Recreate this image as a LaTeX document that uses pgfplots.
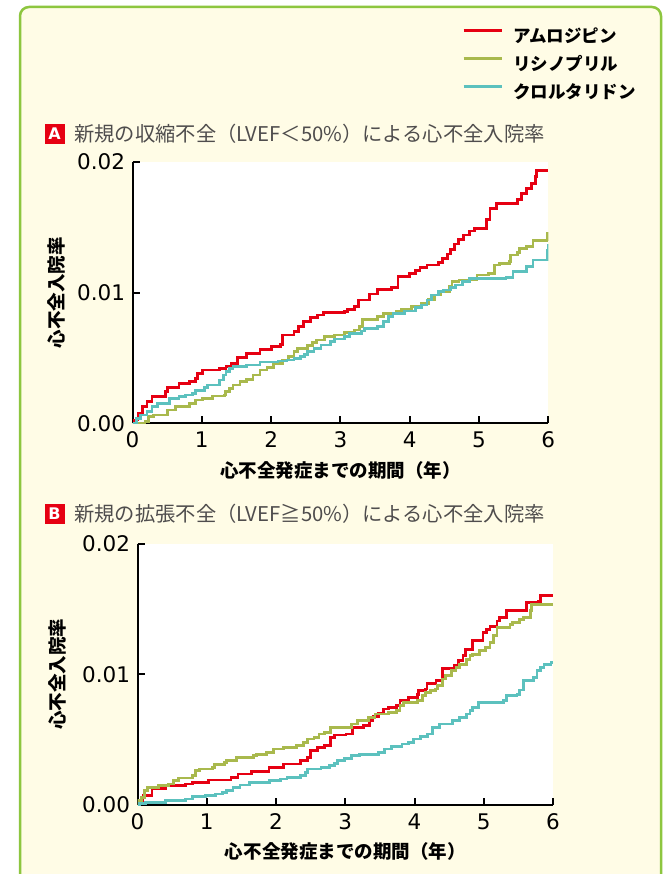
\documentclass[border=0pt]{standalone}
\usepackage{pgfplots}
\pgfplotsset{compat=1.18}
\usepackage{fontspec}
\setmainfont{DejaVu Sans}
\newfontfamily\jp{Noto Sans CJK JP}
\newfontfamily\dejavu{DejaVu Sans}
\definecolor{cred}{HTML}{E60012}
\definecolor{cgreen}{HTML}{A9B94D}
\definecolor{ccyan}{HTML}{5CC1BE}
\definecolor{cborder}{HTML}{8DC63F}
\definecolor{cream}{HTML}{FFFCE6}
\definecolor{tgray}{HTML}{4F4D4D}

\pgfplotsset{
 myaxis/.style={
  scale only axis, width=415.8pt, height=261.6pt,
  xmin=0, xmax=6, ymin=0, ymax=0.02,
  axis x line=bottom, axis y line=left,
  axis line style={-, line width=2pt, black},
  tick align=inside, major tick length=7pt,
  every tick/.style={line width=2pt, black},
  xtick={0,1,2,3,4,5,6}, ytick={0,0.01,0.02},
  yticklabels={0.00,0.01,0.02}, scaled y ticks=false,
  /pgf/number format/assume math mode=true,
  ticklabel style={font=\dejavu\fontsize{21.5}{21.5}\selectfont},
  xticklabel style={yshift=-5pt},
  yticklabel style={xshift=-4pt},
  axis background/.style={fill=white},
  xlabel={心不全発症までの期間（年）},
  ylabel={心不全入院率},
  label style={font=\jp\bfseries\fontsize{18.5}{18.5}\selectfont},
  xlabel style={at={(axis description cs:0.5,-0.1785)}, anchor=center},
 }
}

\begin{document}
\begin{tikzpicture}[x=1pt,y=1pt]
\path[use as bounding box, fill=white] (0,0) rectangle (667,-874);
\draw[cborder, line width=2.5pt, fill=cream, rounded corners=9pt] (20,-7) rectangle (661,-910);

% Panel A title
\node[fill=cred, text=white, font=\dejavu\bfseries\fontsize{16}{16}\selectfont, minimum width=20pt, minimum height=20pt, inner sep=0pt] at (54.5,-134) {A};
\node[anchor=west, text=tgray, font=\jp\fontsize{20.3}{21}\selectfont, inner sep=0pt] at (74,-134) {新規の収縮不全（LVEF＜50\%）による心不全入院率};

% Panel B title
\node[fill=cred, text=white, font=\dejavu\bfseries\fontsize{16}{16}\selectfont, minimum width=20pt, minimum height=20pt, inner sep=0pt] at (54.5,-514) {B};
\node[anchor=west, text=tgray, font=\jp\fontsize{20.3}{21}\selectfont, inner sep=0pt] at (74,-514) {新規の拡張不全（LVEF≧50\%）による心不全入院率};

\begin{axis}[myaxis, at={(132.5pt,-423.3pt)}, anchor=south west,
  ylabel style={at={(axis description cs:-0.184,0.5)}, anchor=center, rotate=0},
  legend style={draw=none, fill=none, inner sep=0pt, outer sep=0pt,
    at={(axis description cs:0.7925,1.5086)}, anchor=north west,
    font=\jp\bfseries\fontsize{17.5}{18}\selectfont,
    nodes={inner sep=0pt, text height=14pt, text depth=3.5pt},
    row sep=10.5pt, /tikz/every odd column/.append style={column sep=10pt}},
  legend cell align=left,
  legend image code/.code={\draw[#1, line width=3pt] (0pt,6.6pt) -- (38pt,6.6pt);},
]
\addplot[const plot, cred, line width=2.8pt] coordinates {
(0,0) (0.03,0.25e-3) (0.08,0.76e-3) (0.14,1.27e-3) (0.21,1.66e-3) (0.28,2.04e-3)
(0.48,2.42e-3) (0.50,2.73e-3) (0.67,3.06e-3) (0.82,3.18e-3) (0.91,3.44e-3) (0.94,3.82e-3)
(1.01,4.08e-3) (1.26,4.20e-3) (1.35,4.33e-3) (1.43,4.59e-3) (1.52,5.04e-3) (1.64,5.35e-3)
(1.84,5.66e-3) (2.01,5.86e-3) (2.13,6.04e-3) (2.17,6.75e-3) (2.33,7.01e-3) (2.40,7.39e-3)
(2.47,7.77e-3) (2.57,8.08e-3) (2.67,8.28e-3) (2.76,8.48e-3) (3.06,8.56e-3) (3.10,8.71e-3)
(3.20,8.92e-3) (3.26,9.43e-3) (3.42,9.89e-3) (3.54,10.24e-3) (3.74,10.39e-3) (3.83,11.21e-3)
(4.00,11.46e-3) (4.08,11.67e-3) (4.15,11.92e-3) (4.25,12.10e-3) (4.42,12.28e-3) (4.47,12.61e-3)
(4.54,12.94e-3) (4.59,13.30e-3) (4.65,13.71e-3) (4.70,14.06e-3) (4.78,14.39e-3) (4.86,14.70e-3)
(4.93,14.88e-3) (5.11,15.60e-3) (5.16,16.40e-3) (5.25,16.82e-3) (5.56,17.12e-3) (5.61,17.58e-3)
(5.68,17.96e-3) (5.76,18.34e-3) (5.81,18.85e-3) (5.83,19.31e-3) (6.00,19.31e-3)
};
\addlegendentry{アムロジピン}
\addplot[const plot, cgreen, line width=2.8pt] coordinates {
(0,0) (0.18,0.13e-3) (0.23,0.51e-3) (0.30,0.64e-3) (0.50,1.02e-3) (0.62,1.27e-3)
(0.82,1.53e-3) (0.91,1.78e-3) (1.01,1.91e-3) (1.16,2.09e-3) (1.33,2.17e-3) (1.34,2.42e-3)
(1.40,2.68e-3) (1.45,2.93e-3) (1.55,3.18e-3) (1.65,3.36e-3) (1.74,3.69e-3) (1.84,4.08e-3)
(1.94,4.28e-3) (2.04,4.59e-3) (2.16,4.84e-3) (2.25,5.10e-3) (2.33,5.48e-3) (2.38,5.73e-3)
(2.53,5.94e-3) (2.60,6.17e-3) (2.65,6.37e-3) (2.77,6.62e-3) (2.91,6.75e-3) (3.06,6.93e-3)
(3.20,7.13e-3) (3.27,7.39e-3) (3.32,7.94e-3) (3.54,8.15e-3) (3.62,8.41e-3) (3.81,8.54e-3)
(3.88,8.71e-3) (4.03,8.92e-3) (4.17,9.17e-3) (4.27,9.48e-3) (4.36,9.81e-3) (4.44,10.06e-3)
(4.58,10.45e-3) (4.61,10.83e-3) (4.71,10.96e-3) (4.95,11.01e-3) (4.97,11.34e-3) (5.14,11.46e-3)
(5.22,12.10e-3) (5.29,12.23e-3) (5.44,12.36e-3) (5.46,12.87e-3) (5.56,13.04e-3) (5.59,13.38e-3)
(5.68,13.50e-3) (5.78,13.96e-3) (5.97,14.01e-3) (5.99,14.50e-3) (6.00,14.60e-3)
};
\addlegendentry{リシノプリル}
\addplot[const plot, ccyan, line width=2.8pt] coordinates {
(0,0) (0.06,0.38e-3) (0.11,0.64e-3) (0.21,0.89e-3) (0.28,1.27e-3) (0.36,1.53e-3)
(0.53,1.91e-3) (0.67,2.04e-3) (0.77,2.17e-3) (0.87,2.29e-3) (0.91,2.50e-3) (1.04,2.75e-3)
(1.08,2.93e-3) (1.26,3.31e-3) (1.31,3.69e-3) (1.35,3.95e-3) (1.40,4.20e-3) (1.45,4.33e-3)
(1.65,4.46e-3) (1.84,4.69e-3) (2.10,4.76e-3) (2.23,4.84e-3) (2.33,4.94e-3) (2.42,5.10e-3)
(2.48,5.27e-3) (2.53,5.48e-3) (2.62,5.73e-3) (2.72,5.99e-3) (2.86,6.24e-3) (2.91,6.45e-3)
(3.06,6.62e-3) (3.13,6.88e-3) (3.30,7.06e-3) (3.35,7.26e-3) (3.54,7.39e-3) (3.62,7.77e-3)
(3.69,8.15e-3) (3.76,8.41e-3) (3.93,8.59e-3) (4.08,8.84e-3) (4.17,9.04e-3) (4.25,9.43e-3)
(4.32,9.81e-3) (4.42,10.06e-3) (4.49,10.19e-3) (4.59,10.37e-3) (4.66,10.57e-3) (4.76,10.83e-3)
(4.86,11.04e-3) (5.39,11.13e-3) (5.49,11.59e-3) (5.68,11.97e-3) (5.78,12.48e-3) (5.99,13.25e-3)
(6.00,13.70e-3)
};
\addlegendentry{クロルタリドン}
\end{axis}

\begin{axis}[myaxis, at={(137.5pt,-805pt)}, anchor=south west, width=415.5pt, height=261.5pt,
  ylabel style={at={(axis description cs:-0.1925,0.5)}, anchor=center, rotate=0},
]
\addplot[const plot, cred, line width=2.8pt] coordinates {
(0,0) (0.03,0.33e-3) (0.08,0.71e-3) (0.21,1.27e-3) (0.40,1.48e-3) (0.69,1.61e-3)
(0.79,1.73e-3) (1.03,1.91e-3) (1.35,2.11e-3) (1.45,2.37e-3) (1.65,2.55e-3) (1.90,2.88e-3)
(2.11,3.13e-3) (2.35,3.39e-3) (2.45,3.64e-3) (2.50,4.15e-3) (2.60,4.41e-3) (2.70,4.53e-3)
(2.79,5.17e-3) (2.84,5.35e-3) (3.01,5.43e-3) (3.11,5.94e-3) (3.26,6.06e-3) (3.35,6.45e-3)
(3.40,6.75e-3) (3.48,7.01e-3) (3.55,7.34e-3) (3.62,7.47e-3) (3.74,7.59e-3) (3.79,7.97e-3)
(3.91,8.23e-3) (4.04,8.48e-3) (4.06,8.74e-3) (4.16,8.87e-3) (4.18,9.30e-3) (4.31,9.50e-3)
(4.41,10.45e-3) (4.58,10.65e-3) (4.63,11.08e-3) (4.70,11.41e-3) (4.74,11.92e-3) (4.84,12.56e-3)
(4.99,13.20e-3) (5.04,13.45e-3) (5.09,13.63e-3) (5.19,14.08e-3) (5.23,14.34e-3) (5.33,14.85e-3)
(5.60,14.90e-3) (5.62,15.49e-3) (5.79,15.54e-3) (5.82,16.05e-3) (6.00,16.05e-3)
};
\addplot[const plot, cgreen, line width=2.8pt] coordinates {
(0,0) (0.02,0.33e-3) (0.06,0.59e-3) (0.10,1.12e-3) (0.15,1.35e-3) (0.30,1.48e-3)
(0.45,1.61e-3) (0.52,1.86e-3) (0.59,2.06e-3) (0.79,2.24e-3) (0.84,2.62e-3) (0.89,2.75e-3)
(1.08,2.88e-3) (1.11,3.08e-3) (1.26,3.26e-3) (1.28,3.39e-3) (1.43,3.64e-3) (1.67,3.77e-3)
(1.72,3.89e-3) (1.86,4.02e-3) (1.96,4.28e-3) (2.11,4.41e-3) (2.30,4.53e-3) (2.40,4.79e-3)
(2.45,5.05e-3) (2.55,5.17e-3) (2.62,5.43e-3) (2.70,5.56e-3) (2.79,5.94e-3) (3.09,6.20e-3)
(3.18,6.45e-3) (3.33,6.71e-3) (3.43,6.96e-3) (3.62,7.09e-3) (3.74,7.21e-3) (3.79,7.59e-3)
(3.84,7.85e-3) (4.04,7.97e-3) (4.11,8.36e-3) (4.16,8.61e-3) (4.23,8.74e-3) (4.30,8.87e-3)
(4.33,9.12e-3) (4.40,9.63e-3) (4.45,9.89e-3) (4.53,10.27e-3) (4.60,10.52e-3) (4.65,10.77e-3)
(4.75,11.15e-3) (4.80,11.41e-3) (4.84,11.54e-3) (4.94,11.80e-3) (5.02,12.05e-3) (5.09,12.43e-3)
(5.14,12.94e-3) (5.19,13.58e-3) (5.38,13.83e-3) (5.42,13.96e-3) (5.52,14.21e-3) (5.57,14.34e-3)
(5.67,14.85e-3) (5.69,15.36e-3) (6.00,15.36e-3)
};
\addplot[const plot, ccyan, line width=2.8pt] coordinates {
(0,0) (0.03,0.13e-3) (0.11,0.20e-3) (0.40,0.33e-3) (0.69,0.46e-3) (0.79,0.64e-3)
(0.98,0.71e-3) (1.13,0.84e-3) (1.23,0.97e-3) (1.28,1.10e-3) (1.38,1.35e-3) (1.48,1.53e-3)
(1.62,1.73e-3) (1.91,1.86e-3) (2.06,1.99e-3) (2.16,2.11e-3) (2.35,2.24e-3) (2.43,2.50e-3)
(2.45,2.75e-3) (2.65,2.88e-3) (2.77,3.01e-3) (2.84,3.18e-3) (2.89,3.39e-3) (2.99,3.57e-3)
(3.09,3.77e-3) (3.21,3.89e-3) (3.48,4.02e-3) (3.57,4.28e-3) (3.67,4.46e-3) (3.82,4.66e-3)
(3.91,4.79e-3) (3.99,5.05e-3) (4.09,5.22e-3) (4.19,5.43e-3) (4.26,5.94e-3) (4.36,6.20e-3)
(4.55,6.45e-3) (4.65,6.71e-3) (4.75,6.96e-3) (4.80,7.21e-3) (4.84,7.47e-3) (4.92,7.85e-3)
(5.28,7.97e-3) (5.33,8.36e-3) (5.48,8.48e-3) (5.52,8.79e-3) (5.57,9.50e-3) (5.72,9.76e-3)
(5.77,10.27e-3) (5.82,10.52e-3) (5.87,10.77e-3) (5.97,10.90e-3) (6.00,10.90e-3)
};
\end{axis}
\end{tikzpicture}
\end{document}
